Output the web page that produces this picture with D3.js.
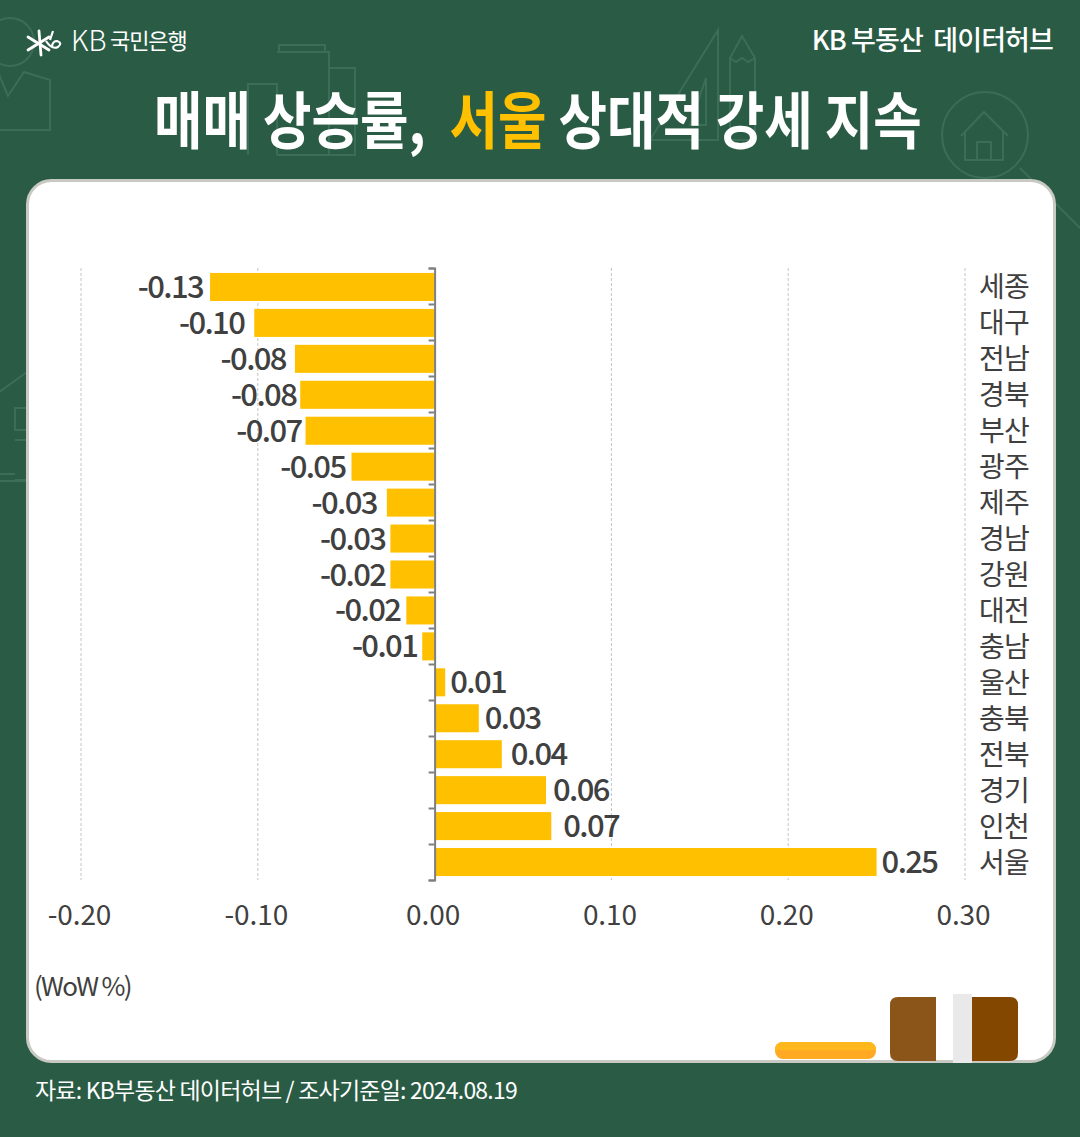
<!DOCTYPE html>
<html><head><meta charset="utf-8">
<script src="https://cdn.jsdelivr.net/npm/d3@7/dist/d3.min.js"></script>
<style>html,body{margin:0;padding:0;background:#2a5c45}svg{display:block}text{font-family:"Noto Sans CJK KR","Noto Sans",sans-serif}</style>
</head><body><div id="c"></div>
<script>
const categories=["세종","대구","전남","경북","부산","광주","제주","경남","강원","대전","충남","울산","충북","전북","경기","인천","서울"];
const values=[-0.127,-0.102,-0.079,-0.076,-0.073,-0.047,-0.027,-0.025,-0.025,-0.016,-0.007,0.006,0.025,0.038,0.063,0.066,0.25];
const valueLabels=["-0.13","-0.10","-0.08","-0.08","-0.07","-0.05","-0.03","-0.03","-0.02","-0.02","-0.01","0.01","0.03","0.04","0.06","0.07","0.25"];
const xTicks=[-0.2,-0.1,0,0.1,0.2,0.3];
const titleParts=[["매매 상승률,  ","#fff"],["서울","#ffc000"],[" 상대적 강세 지속","#fff"]];

const W=1080,H=1137;
const svg=d3.select("#c").append("svg").attr("width",W).attr("height",H);
svg.append("rect").attr("width",W).attr("height",H).attr("fill","#2a5c45");

// faint background illustrations
const deco=svg.append("g").attr("fill","none").attr("stroke","#3c6d57").attr("stroke-width",2);
deco.append("circle").attr("cx",10).attr("cy",42).attr("r",24);
deco.append("path").attr("d","M-2 72 L8 96 L24 72 L50 80 V130 H-2");
deco.append("path").attr("d","M248 155V84H277V155M277 52H329V155H277M279 52V45H325V52M329 68H355V155H329");
deco.append("path").attr("d","M650 140L718 30V140ZM690 125L706 78V125Z");
deco.append("path").attr("d","M730 140V58L742 36L755 58V140ZM730 58L736 62L742 58L748 62L755 58");
deco.append("circle").attr("cx",985).attr("cy",135).attr("r",43);
deco.append("path").attr("d","M961 136L984 112L1008 136M965 132V160H1003V132M977 160V142H991V160");
deco.append("path").attr("d","M1020 168L1080 228");
deco.append("path").attr("d","M-5 395L27 372M15 408H27V430H15ZM15 440H27V480H15M0 474H15M0 481H27");

// header
svg.append("g").attr("stroke","#fff").attr("stroke-width",2.8).attr("stroke-linecap","round")
 .selectAll("line").data([[28,37,49,50],[28,50,49,37],[39,31,41,55]]).join("line")
 .attr("x1",d=>d[0]).attr("y1",d=>d[1]).attr("x2",d=>d[2]).attr("y2",d=>d[3]);
svg.append("path").attr("d","M46 41Q52 50 58 47Q63 43 57 41Q53 41 52 46M53 31L50 40").attr("fill","none").attr("stroke","#fff").attr("stroke-width",2.2);
svg.append("text").attr("x",71).attr("y",51).attr("fill","#fff").attr("font-size",28).attr("font-weight",300).text("KB");
svg.append("text").attr("x",110).attr("y",49).attr("fill","#fff").attr("font-size",22).attr("font-weight",400).attr("letter-spacing",-1.1).text("국민은행");
svg.append("text").attr("x",1053).attr("y",50).attr("text-anchor","end").attr("fill","#fff").attr("font-size",27).attr("font-weight",500).attr("letter-spacing",-0.9).attr("xml:space","preserve").text("KB 부동산  데이터허브");
const t=svg.append("text").attr("font-size",62).attr("font-weight",700).attr("xml:space","preserve");
t.selectAll("tspan").data(titleParts).join("tspan").attr("fill",d=>d[1]).text(d=>d[0]);
t.attr("transform",`translate(154,144) scale(${768/t.node().getComputedTextLength()},1)`);

// card
svg.append("rect").attr("x",27.5).attr("y",180.5).attr("width",1027).attr("height",881).attr("rx",24).attr("fill","#fff").attr("stroke","#c9c9c4").attr("stroke-width",3);

// chart
const x=d3.scaleLinear().domain([-0.2,0.3]).range([81,965]);
const y=d3.scaleBand().domain(categories).range([269,880]).paddingInner(0.22).paddingOuter(0.11);
svg.append("g").selectAll("line").data(xTicks.filter(d=>d!==0)).join("line")
 .attr("x1",d=>x(d)).attr("x2",d=>x(d)).attr("y1",268).attr("y2",880)
 .attr("stroke","#c4c4c4").attr("stroke-width",1).attr("stroke-dasharray","3 2");
svg.append("g").selectAll("rect").data(values).join("rect")
 .attr("x",d=>Math.min(x(d),x(0))).attr("width",d=>Math.abs(x(d)-x(0)))
 .attr("y",(d,i)=>y(categories[i])).attr("height",y.bandwidth()).attr("fill","#ffc000");
const edge=d3.scalePoint().domain(d3.range(categories.length+1)).range([268,880]);
const ax=svg.append("g").attr("transform",`translate(${x(0)},0)`).call(d3.axisLeft(edge).tickSize(6).tickFormat(""));
ax.selectAll("path,line").attr("stroke","#7f7f7f").attr("stroke-width",2);
const xa=svg.append("g").attr("transform","translate(-2,880)").call(d3.axisBottom(x).tickValues(xTicks).tickSize(0).tickPadding(25).tickFormat(d=>d.toFixed(2)));
xa.select("path").remove();
xa.selectAll("text").attr("font-size",28).attr("fill","#404040").attr("letter-spacing",-0.1).attr("font-family",'"Noto Sans CJK KR"').attr("font-weight",400);

const labelGap=[7,10,9,4,4,6,10,5,5,6,5,5,6,9,7,12,5];
svg.append("g").selectAll("text").data(values).join("text")
 .attr("x",(d,i)=>x(d)+(d<0?-labelGap[i]:labelGap[i]))
 .attr("y",(d,i)=>y(categories[i])+y.bandwidth()/2+11)
 .attr("text-anchor",d=>d<0?"end":"start").attr("font-size",31).attr("font-weight",500)
 .attr("letter-spacing",-1.6).attr("fill","#404040").text((d,i)=>valueLabels[i]);
svg.append("g").selectAll("text").data(categories).join("text")
 .attr("x",1004).attr("y",d=>y(d)+y.bandwidth()/2+10.5).attr("text-anchor","middle")
 .attr("font-size",28).attr("font-weight",400).attr("letter-spacing",-0.8).attr("fill","#404040").text(d=>d);
svg.append("text").attr("x",34).attr("y",996).attr("font-size",26).attr("letter-spacing",-1.7).attr("fill","#404040").text("(WoW %)");

// decorative objects at bottom of card
svg.append("rect").attr("x",775).attr("y",1042).attr("width",101).attr("height",17).attr("rx",8).attr("fill","#ffaa22");
svg.append("path").attr("d","M775 1050Q775 1042 783 1042H868Q876 1042 876 1050Z").attr("fill","#ffb81c");
svg.append("path").attr("d","M936 997H898Q890 997 890 1005V1053Q890 1061 898 1061H936Z").attr("fill","#8b5418");
svg.append("rect").attr("x",953).attr("y",994).attr("width",19).attr("height",69).attr("fill","#e9e9e9");
svg.append("path").attr("d","M972 997H1010Q1018 997 1018 1005V1053Q1018 1061 1010 1061H972Z").attr("fill","#834700");

svg.append("text").attr("x",35).attr("y",1099).attr("fill","#fff").attr("font-size",23).attr("letter-spacing",-0.8).text("자료: KB부동산 데이터허브 / 조사기준일: 2024.08.19");
</script></body></html>
